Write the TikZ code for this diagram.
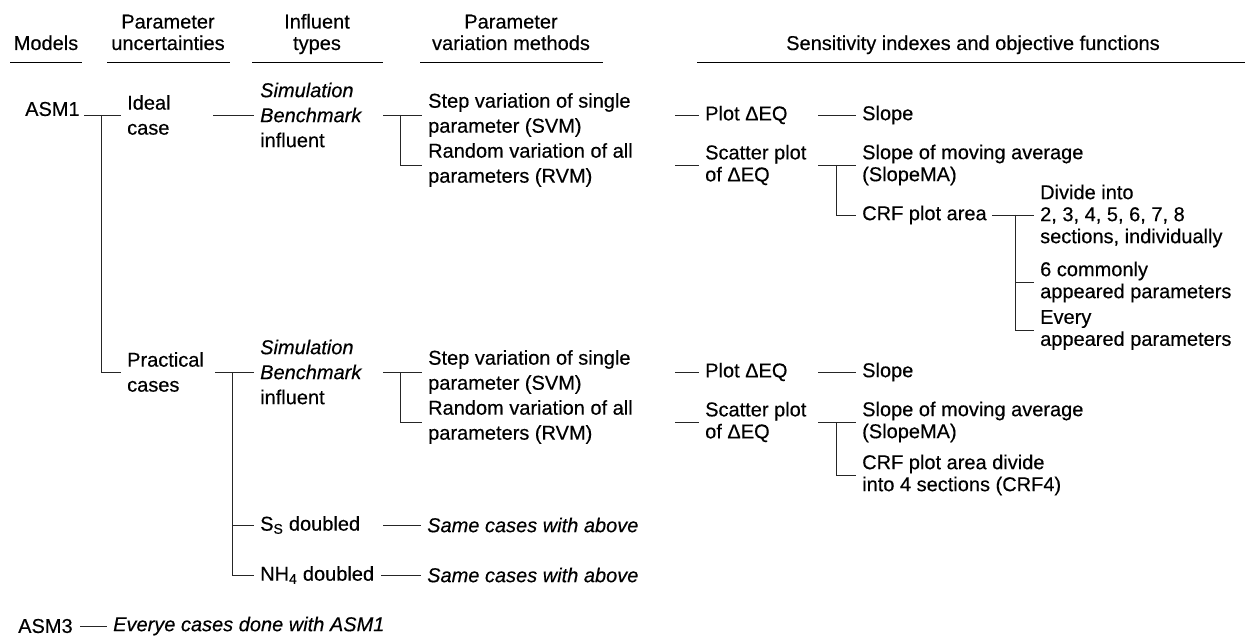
\documentclass[tikz,border=0pt]{standalone}
\usepackage{fontspec}
\setmainfont{Liberation Sans}[FakeBold=0.35]
\begin{document}
\begin{tikzpicture}[x=1pt,y=-1pt,
  txt/.style={anchor=west, inner xsep=6pt, inner ysep=0pt, align=left, font=\fontsize{20}{25}\selectfont},
  tight/.style={font=\fontsize{20}{22}\selectfont},
  hdr/.style={anchor=base, inner sep=0pt, align=center, font=\fontsize{20}{21.5}\selectfont},
  conn/.style={line width=0.8pt, black!85},
  hrule/.style={line width=1.8pt}]
\useasboundingbox (0,0) rectangle (1248,639);

% headers
\node[hdr] (hM) at (46,50) {Models};
\node[hdr] (hP) at (168,50) {Parameter\\uncertainties};
\node[hdr] (hI) at (317,50) {Influent\\types};
\node[hdr] (hV) at (511,50) {Parameter\\variation methods};
\node[hdr] (hS) at (973,50) {Sensitivity indexes and objective functions};
\draw[hrule] (10,62.5) -- (82,62.5);
\draw[hrule] (107,62.5) -- (230,62.5);
\draw[hrule] (252,62.5) -- (383,62.5);
\draw[hrule] (420,62.5) -- (603,62.5);
\draw[hrule] (697,62.5) -- (1245,62.5);

% first block
\node[txt] (asm1) at (19,109) {ASM1};
\node[txt] (ideal) at (121,115) {Ideal\\case};
\node[txt] (sim1) at (254,115) {\textit{Simulation}\\\textit{Benchmark}\\influent};
\node[txt] (step1) at (422,115) {Step variation of single\\parameter (SVM)};
\node[txt] (rand1) at (422,165) {Random variation of all\\parameters (RVM)};
\node[txt,tight] (plot1) at (699,115) {Plot ΔEQ};
\node[txt,tight] (scat1) at (699,165) {Scatter plot\\of ΔEQ};
\node[txt] (slope1) at (856,115) {Slope};
\node[txt,tight] (slma1) at (856,165) {Slope of moving average\\(SlopeMA)};
\node[txt] (crf1) at (856,215) {CRF plot area};
\node[txt,tight] (div) at (1034,216) {Divide into\\2, 3, 4, 5, 6, 7, 8\\sections, individually};
\node[txt,tight] (com6) at (1034,282) {6 commonly\\appeared parameters};
\node[txt,tight] (every) at (1034,330) {Every\\appeared parameters};

% second block
\node[txt] (prac) at (121,372) {Practical\\cases};
\node[txt] (sim2) at (254,372) {\textit{Simulation}\\\textit{Benchmark}\\influent};
\node[txt] (step2) at (422,372) {Step variation of single\\parameter (SVM)};
\node[txt] (rand2) at (422,422) {Random variation of all\\parameters (RVM)};
\node[txt,tight] (plot2) at (699,372) {Plot ΔEQ};
\node[txt,tight] (scat2) at (699,422) {Scatter plot\\of ΔEQ};
\node[txt] (slope2) at (856,372) {Slope};
\node[txt,tight] (slma2) at (856,422) {Slope of moving average\\(SlopeMA)};
\node[txt,tight] (crf4) at (856,475) {CRF plot area divide\\into 4 sections (CRF4)};
\node[txt] (ss) at (254,525) {S\textsubscript{S} doubled};
\node[txt] (nh4) at (254,575) {NH\textsubscript{4} doubled};
\node[txt] (same1) at (421,525) {\textit{Same cases with above}};
\node[txt] (same2) at (421,575) {\textit{Same cases with above}};
\node[txt] (asm3) at (12,626) {ASM3};
\node[txt] (everye) at (107,626) {\textit{Everye cases done with ASM1}};

% connector start points and junctions
\coordinate (a1) at (84,115);
\coordinate (jA) at (101,115);
\coordinate (i1) at (213,115);
\coordinate (s1) at (383,115);
\coordinate (jC) at (400,115);
\coordinate (t1) at (675,115);
\coordinate (r1) at (675,165);
\coordinate (p1) at (818,115);
\coordinate (q1) at (818,165);
\coordinate (jE) at (836,165);
\coordinate (c1) at (992,215);
\coordinate (jF) at (1015,215);

\coordinate (i2) at (215,372);
\coordinate (jB) at (232,372);
\coordinate (s2) at (383,372);
\coordinate (jD) at (400,372);
\coordinate (t2) at (675,372);
\coordinate (r2) at (675,422);
\coordinate (p2) at (818,372);
\coordinate (q2) at (818,422);
\coordinate (jG) at (836,422);
\coordinate (d1) at (383,525);
\coordinate (d2) at (381,575);
\coordinate (a3) at (80,626);

\draw[conn] (a1) -- (ideal.west);
\draw[conn] (jA) |- (prac.west);
\draw[conn] (i1) -- (sim1.west);
\draw[conn] (s1) -- (step1.west);
\draw[conn] (jC) |- (rand1.west);
\draw[conn] (t1) -- (plot1.west);
\draw[conn] (r1) -- (scat1.west);
\draw[conn] (p1) -- (slope1.west);
\draw[conn] (q1) -- (slma1.west);
\draw[conn] (jE) |- (crf1.west);
\draw[conn] (c1) -- (div.west |- c1);
\draw[conn] (jF) |- (com6.west);
\draw[conn] (jF) |- (every.west);

\draw[conn] (i2) -- (sim2.west);
\draw[conn] (jB) |- (ss.west);
\draw[conn] (jB) |- (nh4.west);
\draw[conn] (s2) -- (step2.west);
\draw[conn] (jD) |- (rand2.west);
\draw[conn] (t2) -- (plot2.west);
\draw[conn] (r2) -- (scat2.west);
\draw[conn] (p2) -- (slope2.west);
\draw[conn] (q2) -- (slma2.west);
\draw[conn] (jG) |- (crf4.west);
\draw[conn] (d1) -- (same1.west);
\draw[conn] (d2) -- (same2.west);
\draw[conn] (a3) -- (everye.west);
\end{tikzpicture}
\end{document}
